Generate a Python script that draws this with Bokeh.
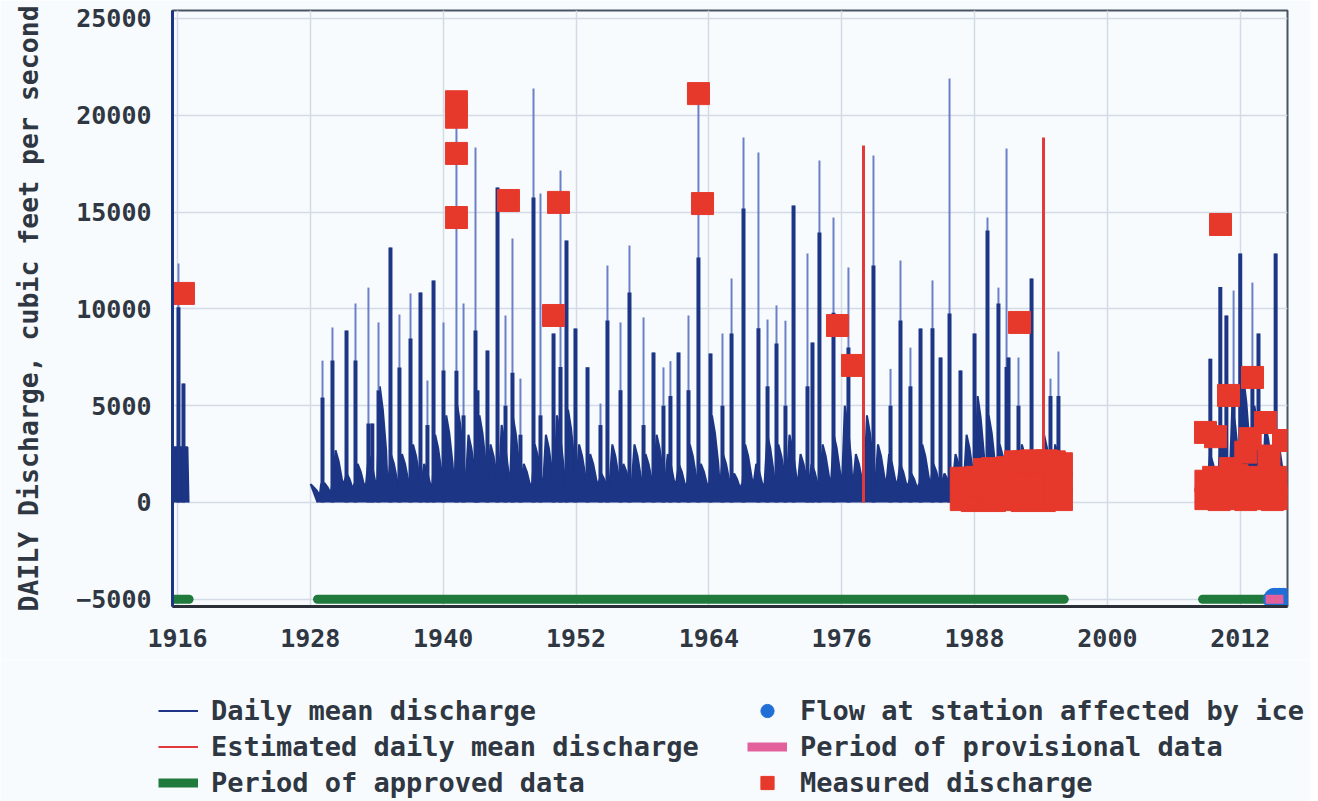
from bokeh.plotting import figure
from bokeh.layouts import column
from bokeh.models import FixedTicker, Legend, LegendItem, Range1d
from bokeh.embed import file_html
from bokeh.resources import INLINE

# ---------------- data ----------------
YEAR_TICKS = [1916, 1928, 1940, 1952, 1964, 1976, 1988, 2000, 2012]
Q_TICKS = [-5000, 0, 5000, 10000, 15000, 20000, 25000]

# daily mean discharge: individual high-flow spikes (time, peak, height of dense part)
spike_t = [1916.09, 1916.54,
           1929.10, 1930.00, 1931.27, 1932.08, 1933.25, 1933.60, 1934.16, 1935.24, 1936.05, 1937.05,
           1937.95, 1938.58, 1939.13, 1940.03, 1941.20, 1941.84, 1942.92, 1943.10, 1944.00, 1944.91,
           1945.63, 1946.26, 1946.98, 1948.16, 1948.79, 1949.97, 1950.60, 1951.14, 1951.95, 1953.04,
           1954.21, 1954.84, 1956.02, 1956.83, 1958.10, 1959.00, 1959.90, 1960.53, 1961.26, 1962.16,
           1963.06, 1964.15, 1965.23, 1966.05, 1967.13, 1968.48, 1969.30, 1970.11, 1970.92, 1971.65,
           1972.91, 1973.36, 1973.99, 1975.26, 1976.61, 1978.87, 1980.41, 1981.31, 1982.21, 1983.12,
           1984.20, 1984.93, 1985.74, 1986.73, 1988.00, 1989.17, 1990.16, 1990.89, 1991.07, 1991.97,
           1993.15, 1994.86, 1995.58,
           2009.30, 2010.20, 2010.75, 2011.40, 2012.00, 2013.10, 2013.65, 2015.20]
spike_peak = [12340, 6150,
              7330, 9040, 8880, 10280, 11100, 4080, 9300, 13170, 9710, 10800,
              10850, 6300, 11470, 9300, 20400, 10280, 18340, 5790, 7850, 16270,
              9660, 13640, 6400, 21380, 15960, 8730, 17150, 13530, 8990, 6980,
              5110, 12240, 9300, 13270, 9560, 7750, 6980, 7300, 7750, 9660,
              21120, 7700, 8730, 11570, 18850, 18080, 9450, 10180, 9390, 15340,
              12860, 8260, 17660, 14720, 12140, 17920, 6900, 12500, 8000, 8990,
              11470, 7490, 21900, 6820, 8730, 14720, 11100, 18290, 7490, 7490,
              11570, 6400, 7800,
              7430, 11130, 9660, 10950, 12860, 11360, 8730, 12860]
spike_dense = [10080, 6150,
               5420, 7330, 8880, 7330, 4080, 4080, 5790, 13170, 6970, 8470,
               10850, 4000, 11470, 6820, 6800, 4500, 8880, 5790, 7850, 16270,
               5000, 6700, 3500, 15750, 4500, 8730, 7000, 13530, 8990, 6980,
               4000, 9400, 5800, 10850, 4000, 7750, 5000, 5500, 7750, 5800,
               12650, 7700, 5000, 8730, 15190, 9000, 6000, 8210, 5000, 15340,
               6000, 8260, 13950, 9800, 8000, 12240, 5000, 9400, 6000, 8990,
               9000, 7490, 9760, 6820, 8730, 14050, 10280, 7000, 7490, 5000,
               11570, 5500, 5500,
               7430, 11130, 9660, 6000, 12860, 6000, 8730, 12860]

# seasonal base flow level of each water year
base_1916_t = [1915.62, 1915.70, 1916.90, 1917.00]
base_1916_q = [0, 2850, 2850, 0]
main_years = list(range(1928, 1996))
main_levels = [800, 1000, 2700, 1500, 2000, 2500, 6000, 2500, 2500, 3000, 2000, 3500, 4500, 5000,
               3500, 4500, 3000, 4000, 4500, 2000, 3000, 3500, 4500, 4800, 3000, 2500, 1500, 3000,
               2000, 3000, 2500, 3500, 2500, 2000, 3000, 2000, 4500, 2500, 1500, 3000, 2000, 3500,
               3000, 3500, 2500, 2000, 3000, 3500, 5000, 2500, 4500, 3000, 2500, 2000, 1500, 3000,
               2000, 1500, 2500, 3500, 5500, 4500, 3000, 2500, 3000, 2500, 3500, 3000]
recent_years = list(range(2009, 2016))
recent_levels = [2500, 4000, 5000, 6500, 5000, 4000, 3500]
low_flow = 950

# estimated daily mean discharge spikes
est_t = [1977.97, 1994.23]
est_peak = [18440, 18850]

# measured discharge
meas_t = [1916.54, 1941.20, 1941.20, 1941.20, 1941.20, 1945.90, 1949.97, 1950.42, 1963.06, 1963.43,
          1975.62, 1976.98, 1992.06, 2010.22,
          1986.8, 1987.3, 1987.8, 1988.3, 1988.8, 1989.3, 1989.8, 1990.3, 1990.8, 1991.3,
          1991.8, 1992.3, 1992.8, 1993.3, 1993.8, 1994.3, 1994.8, 1995.3, 1995.85,
          1986.9, 1987.6, 1988.3, 1989.0, 1989.7, 1990.4, 1991.1, 1991.8, 1992.5, 1993.2,
          1993.9, 1994.6, 1995.3, 1995.85,
          1986.8, 1987.5, 1988.2, 1988.9, 1989.6, 1990.3, 1991.0, 1991.7, 1992.4, 1993.1,
          1993.8, 1994.5, 1995.2, 1995.85,
          2008.86, 2009.77, 2010.94, 2013.11, 2014.28, 2015.91, 2011.12, 2012.5, 2012.9, 2014.6,
          2008.9, 2009.5, 2010.1, 2010.7, 2011.3, 2011.9, 2012.5, 2013.1, 2013.7, 2014.3,
          2014.9, 2015.5, 2015.95,
          2008.9, 2009.6, 2010.3, 2011.0, 2011.7, 2012.4, 2013.1, 2013.8, 2014.5, 2015.2, 2015.9]
meas_q = [10800, 20700, 19900, 18030, 14720, 15600, 9660, 15500, 21120, 15440,
          9140, 7080, 9300, 14360,
          150, 300, 100, 250, 200, 350, 100, 300, 150, 250,
          200, 100, 300, 150, 250, 100, 300, 200, 150,
          800, 850, 900, 950, 1000, 950, 1000, 1050, 1100, 1000,
          1050, 1100, 1000, 1050,
          1250, 1250, 1300, 1700, 1750, 1700, 1800, 2100, 2100, 2150,
          2100, 2150, 2100, 2000,
          3620, 3400, 5530, 6460, 4130, 3200, 1750, 2600, 3300, 2400,
          200, 300, 150, 250, 200, 300, 150, 250, 200, 300,
          150, 250, 200,
          1100, 1300, 1000, 1200, 1400, 1100, 1300, 1200, 1100, 1300, 1000]

# data-quality periods (drawn at the -5000 level)
appr_start = [1915.60, 1928.65, 2008.60]
appr_end = [1917.05, 1996.10, 2014.30]
prov_start = [2014.30]
prov_end = [2015.90]
ice_t = [2015.10, 2015.50, 2015.90]
flag_level = -5000

# ---------------- styling ----------------
NAVY = "#1c3585"
LIGHT = "#6c80c8"
RED = "#e23a3a"
MEAS = "#e6392c"
GREEN = "#1f7a3c"
PINK = "#e2609c"
ICE = "#1f6fd6"
BG = "#f8fbfd"
TXT = "#2f3742"
FONT = "DejaVu Sans Mono"
W = 1310

p = figure(width=W, height=660,
           x_range=Range1d(1915.55, 2016.27), y_range=Range1d(-5372, 25413),
           output_backend="svg", toolbar_location=None,
           min_border_left=172, min_border_top=10, min_border_right=W - 1287,
           min_border_bottom=54,
           background_fill_color=BG, border_fill_color=BG)
p.frame_align = False

p.outline_line_color = "#4a5563"
p.outline_line_width = 2

p.xaxis.ticker = FixedTicker(ticks=YEAR_TICKS)
p.yaxis.ticker = FixedTicker(ticks=Q_TICKS)
for ax in (p.xaxis[0], p.yaxis[0]):
    ax.major_tick_line_color = None
    ax.minor_tick_line_color = None
    ax.major_label_text_font = FONT
    ax.major_label_text_font_style = "bold"
    ax.major_label_text_font_size = "25px"
    ax.major_label_text_color = TXT
p.xaxis.major_label_standoff = 16
p.yaxis.major_label_standoff = 15
p.yaxis.axis_line_color = NAVY
p.yaxis.axis_line_width = 3
p.xaxis.axis_line_color = "#2a2f38"
p.xaxis.axis_line_width = 3
p.yaxis.axis_label = "DAILY Discharge, cubic feet per second"
p.yaxis.axis_label_text_font = FONT
p.yaxis.axis_label_text_font_style = "bold"
p.yaxis.axis_label_text_font_size = "26.5px"
p.yaxis.axis_label_text_color = TXT
p.yaxis.axis_label_standoff = 29

p.grid.grid_line_color = "#d3dbe6"
p.grid.grid_line_width = 1.5


def envelope(years, levels, t_first, t_last):
    ts, qs = [t_first], [0]
    for yr, lv in zip(years, levels):
        ts += [yr + 0.03, yr + 0.28, yr + 0.55, yr + 0.85, yr + 0.97]
        qs += [low_flow, lv, 0.8 * lv, 0.45 * lv, low_flow]
    ts.append(t_last)
    qs.append(0)
    return ts, qs


main_t, main_q = envelope(main_years, main_levels, 1928.65, 1996.0)
rec_t, rec_q = envelope(recent_years, recent_levels, 2009.1, 2016.1)

for ts, qs in ((base_1916_t, base_1916_q), (main_t, main_q), (rec_t, rec_q)):
    p.varea(x=ts, y1=[0] * len(ts), y2=qs, fill_color=NAVY)
    p.line(ts, qs, line_color=NAVY, line_width=2)

p.segment(x0=spike_t, y0=[0] * len(spike_t), x1=spike_t, y1=spike_peak,
          line_color=LIGHT, line_width=2)
p.segment(x0=spike_t, y0=[0] * len(spike_t), x1=spike_t, y1=spike_dense,
          line_color=NAVY, line_width=4)

p.segment(x0=est_t, y0=[0] * len(est_t), x1=est_t, y1=est_peak, line_color=RED, line_width=3)

p.scatter(meas_t, meas_q, marker="square", size=22, fill_color=MEAS, line_color=MEAS)

p.segment(x0=appr_start, y0=[flag_level] * 3, x1=appr_end, y1=[flag_level] * 3,
          line_color=GREEN, line_width=9, line_cap="round")
p.scatter(ice_t, [flag_level] * len(ice_t), marker="circle", size=22,
          fill_color=ICE, line_color=ICE)
p.segment(x0=prov_start, y0=[flag_level], x1=prov_end, y1=[flag_level],
          line_color=PINK, line_width=9)

# ---------------- legend panel under the chart ----------------
# (same series again; this panel's ranges keep them out of view, only the key shows)
lg = figure(width=W, height=141, x_range=Range1d(0, 1), y_range=Range1d(0, 1),
            x_axis_type=None, y_axis_type=None, output_backend="svg", toolbar_location=None,
            min_border=0, background_fill_color=BG, border_fill_color=BG)
lg.frame_align = False
lg.grid.visible = False
lg.outline_line_color = None
k_daily = lg.line(main_t, main_q, line_color=NAVY, line_width=2)
k_est = lg.line(est_t, est_peak, line_color=RED, line_width=2)
k_appr = lg.line(appr_start, [flag_level] * 3, line_color=GREEN, line_width=9)
k_ice = lg.scatter(ice_t, [flag_level] * len(ice_t), marker="circle", size=16,
                   fill_color=ICE, line_color=ICE)
k_prov = lg.line(prov_start + prov_end, [flag_level] * 2, line_color=PINK, line_width=9)
k_meas = lg.scatter(meas_t, meas_q, marker="square", size=20, fill_color=MEAS, line_color=MEAS)

legend = Legend(items=[LegendItem(label="Daily mean discharge", renderers=[k_daily]),
                       LegendItem(label="Estimated daily mean discharge", renderers=[k_est]),
                       LegendItem(label="Period of approved data", renderers=[k_appr]),
                       LegendItem(label="Flow at station affected by ice", renderers=[k_ice]),
                       LegendItem(label="Period of provisional data", renderers=[k_prov]),
                       LegendItem(label="Measured discharge", renderers=[k_meas])],
                orientation="vertical", ncols=2, location=(158, 2),
                label_text_font=FONT, label_text_font_style="bold",
                label_text_font_size="27px", label_text_color=TXT,
                glyph_width=40, glyph_height=33, label_standoff=13, label_width=533,
                spacing=3, padding=0, margin=0,
                border_line_color=None, background_fill_alpha=0)
lg.add_layout(legend)

page = column(p, lg, spacing=0)
open("out.html", "w").write(file_html(page, INLINE))
